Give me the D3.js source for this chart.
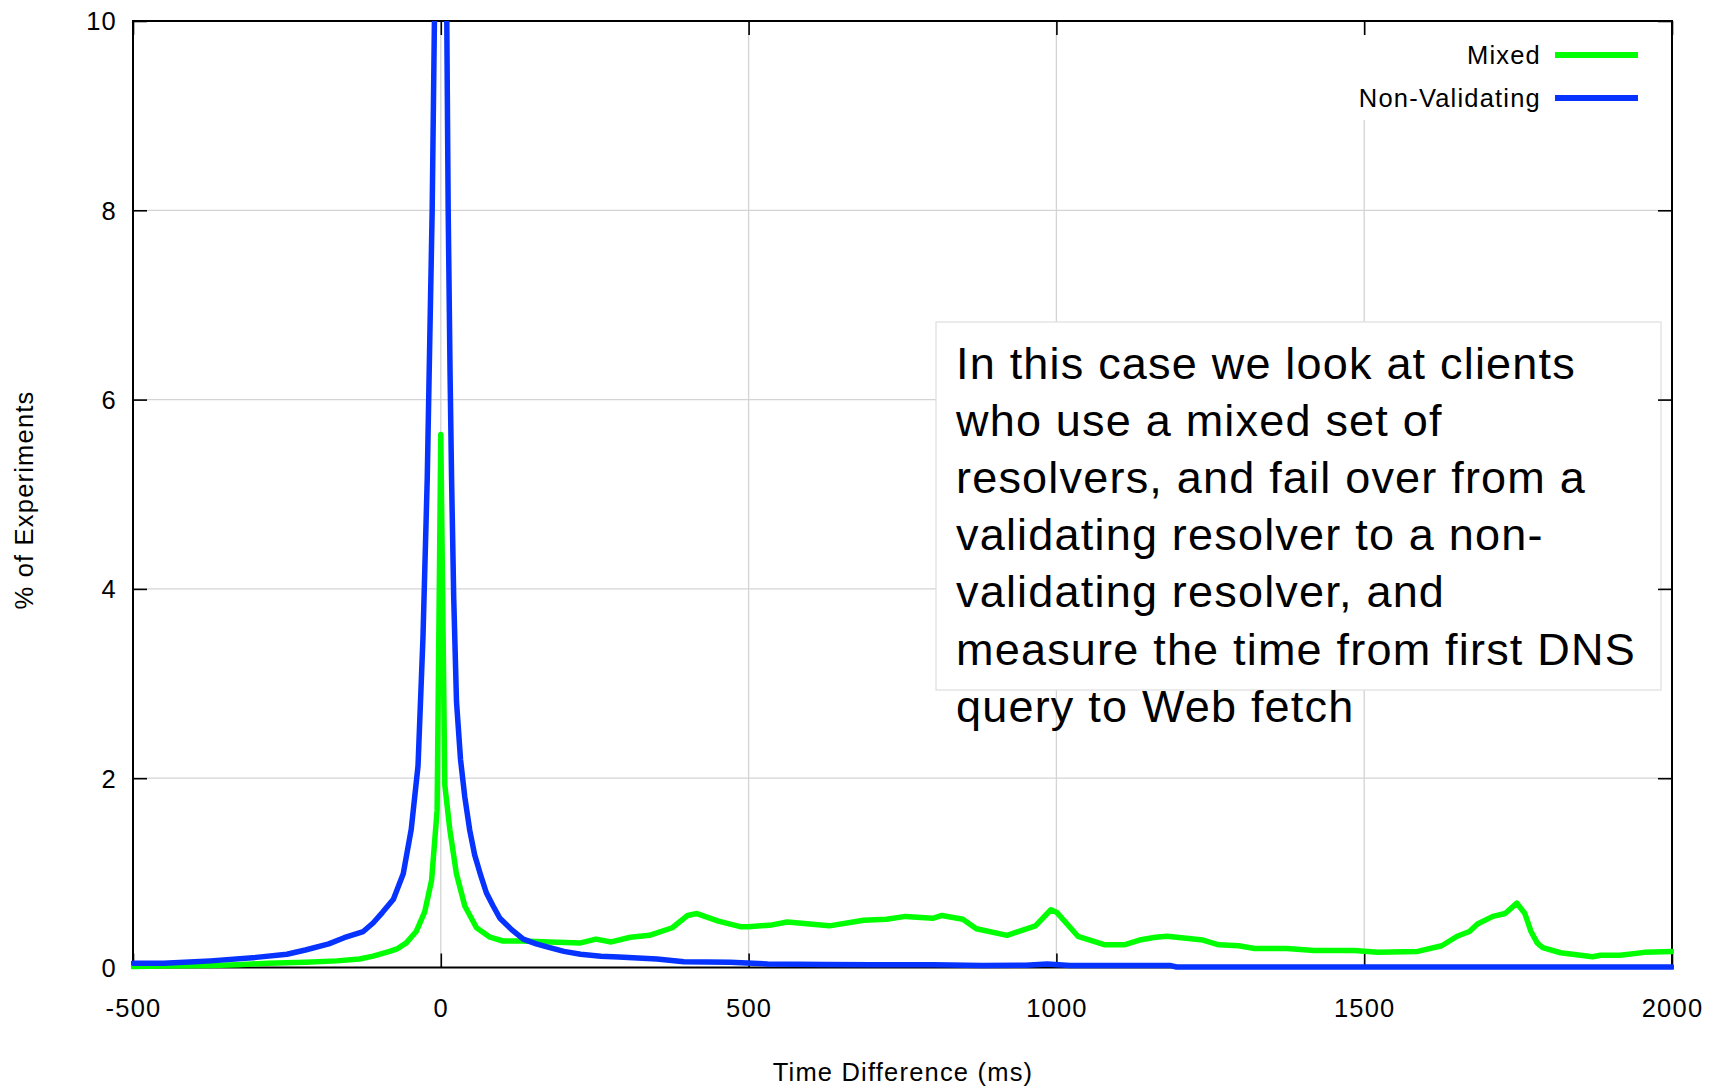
<!DOCTYPE html>
<html>
<head>
<meta charset="utf-8">
<script src="https://cdn.jsdelivr.net/npm/d3@7"></script>
<style>
  body { margin: 0; background: #fff; }
  text { font-family: "Liberation Sans", Arial, Helvetica, sans-serif; fill: #000; }
</style>
</head>
<body>
<svg id="chart" width="1723" height="1089"></svg>
<script>
// ---- Data ----
const xTicks = [-500, 0, 500, 1000, 1500, 2000];
const yTicks = [0, 2, 4, 6, 8, 10];
const seriesNames = ["Mixed", "Non-Validating"];
const xTitle = "Time Difference (ms)";
const yTitle = "% of Experiments";

// Mixed series: time difference (ms) and % of experiments
const mixedT = [-500, -450, -374, -330, -281, -220, -169, -132, -110, -83, -70, -56, -40, -26, -15, -6, 0,
  6.5, 14.6, 25.4, 39, 58, 80, 101, 130, 177, 227, 252, 277, 308, 339, 376, 401, 416, 451, 488, 500,
  538, 563, 631, 687, 724, 755, 799, 814, 848, 870, 920, 966, 991, 1001, 1035, 1079, 1110, 1135, 1161,
  1180, 1238, 1264, 1296, 1322, 1374, 1419, 1484, 1522, 1587, 1626, 1651, 1671, 1684, 1709, 1729, 1748,
  1761, 1771, 1781, 1790, 1819, 1871, 1884, 1916, 1955, 2000];
const mixedV = [0.01, 0.015, 0.02, 0.03, 0.044, 0.055, 0.07, 0.09, 0.12, 0.17, 0.2, 0.26, 0.38, 0.59, 0.92, 1.66, 5.63,
  1.93, 1.46, 0.99, 0.65, 0.42, 0.32, 0.28, 0.28, 0.27, 0.26, 0.30, 0.27, 0.32, 0.34, 0.42, 0.55, 0.57, 0.49, 0.43, 0.43,
  0.45, 0.48, 0.44, 0.50, 0.51, 0.54, 0.52, 0.55, 0.51, 0.41, 0.34, 0.44, 0.61, 0.58, 0.33, 0.24, 0.24, 0.29, 0.32,
  0.33, 0.29, 0.24, 0.23, 0.20, 0.20, 0.18, 0.18, 0.16, 0.17, 0.23, 0.33, 0.38, 0.46, 0.54, 0.57, 0.68,
  0.57, 0.38, 0.26, 0.21, 0.156, 0.114, 0.13, 0.13, 0.16, 0.17];

// Non-Validating series
const nonValT = [-500, -450, -400, -374, -300, -250, -220, -182, -157, -126, -110, -95, -77, -61, -48, -37, -29, -22,
  -18, -14, -10, 0, 9.5, 12, 15, 17.5, 21, 25.5, 32, 39, 47, 55, 65, 74, 85, 96, 115, 134, 155, 177, 200, 227,
  260, 289, 351, 395, 470, 531, 625, 700, 800, 880, 950, 985, 1022, 1100, 1186, 1195, 1400, 2000];
const nonValV = [0.045, 0.045, 0.06, 0.07, 0.107, 0.14, 0.185, 0.25, 0.315, 0.38, 0.47, 0.58, 0.72, 0.99, 1.46, 2.13, 3.48, 5.17,
  6.6, 8.0, 10.2, 16, 10.2, 8.0, 6.3, 5.17, 3.9, 2.81, 2.2, 1.80, 1.45, 1.19, 0.97, 0.79, 0.65, 0.52, 0.40, 0.30, 0.25, 0.21, 0.17, 0.14,
  0.12, 0.11, 0.09, 0.06, 0.055, 0.037, 0.033, 0.03, 0.03, 0.02, 0.025, 0.037, 0.02, 0.02, 0.02, 0.005, 0.005, 0.005];

const annotationLines = [
  "In this case we look at clients",
  "who use a mixed set of",
  "resolvers, and fail over from a",
  "validating resolver to a non-",
  "validating resolver, and",
  "measure the time from first DNS",
  "query to Web fetch"
];

const colors = ["#00ff00", "#0633ff"];

// ---- Layout ----
const svg = d3.select("#chart");
const L = 133, R = 1672, T = 21, B = 967.5;
const x = d3.scaleLinear().domain([-500, 2000]).range([L, R]);
const y = d3.scaleLinear().domain([0, 10]).range([B, T]);
const labelFont = { size: "25.5px", ls: "1.2px" };

svg.append("rect").attr("width", 1723).attr("height", 1089).attr("fill", "#fff");

// Gridlines
const grid = svg.append("g");
grid.selectAll("line.gx").data(xTicks.slice(1, -1)).join("line")
  .attr("x1", d => x(d)).attr("x2", d => x(d)).attr("y1", T).attr("y2", B)
  .attr("stroke", "#d4d4d4").attr("stroke-width", 1.3);
grid.selectAll("line.gy").data(yTicks.slice(1, -1)).join("line")
  .attr("x1", L).attr("x2", R).attr("y1", d => y(d)).attr("y2", d => y(d))
  .attr("stroke", "#d4d4d4").attr("stroke-width", 1.3);

// Legend background (hides gridlines)
svg.append("rect").attr("x", 1335).attr("y", 35).attr("width", 320).attr("height", 85).attr("fill", "#fff");

// Annotation box
svg.append("rect").attr("x", 936).attr("y", 322).attr("width", 725).attr("height", 368)
  .attr("fill", "#fff").attr("stroke", "#dedede").attr("stroke-width", 1.2);

// Axes with inward ticks on all four sides
const tickLen = 14;
const fmt = d => String(d);
const xAxisB = d3.axisBottom(x).tickValues(xTicks).tickSize(-tickLen).tickPadding(0).tickFormat(fmt);
const xAxisT = d3.axisTop(x).tickValues(xTicks).tickSize(-tickLen).tickFormat("");
const yAxisL = d3.axisLeft(y).tickValues(yTicks).tickSize(-tickLen).tickFormat(fmt);
const yAxisR = d3.axisRight(y).tickValues(yTicks).tickSize(-tickLen).tickFormat("");

function styleAxis(g) {
  g.select(".domain").remove();
  g.selectAll(".tick line").attr("stroke", "#000").attr("stroke-width", 1.6);
  g.selectAll(".tick text").attr("font-size", labelFont.size).attr("letter-spacing", labelFont.ls)
    .attr("font-family", "'Liberation Sans', Arial, sans-serif").attr("fill", "#000");
}
const gxb = svg.append("g").attr("transform", `translate(0,${B})`).call(xAxisB).call(styleAxis);
gxb.selectAll(".tick text").attr("y", 0).attr("dy", null).attr("transform", "translate(0,49)");
svg.append("g").attr("transform", `translate(0,${T})`).call(xAxisT).call(styleAxis);
const gyl = svg.append("g").attr("transform", `translate(${L},0)`).call(yAxisL).call(styleAxis);
gyl.selectAll(".tick text").attr("x", -16).attr("dy", "0.35em");
svg.append("g").attr("transform", `translate(${R},0)`).call(yAxisR).call(styleAxis);

// Frame
svg.append("rect").attr("x", L).attr("y", T).attr("width", R - L).attr("height", B - T)
  .attr("fill", "none").attr("stroke", "#000").attr("stroke-width", 2);

// Axis titles
svg.append("text").attr("x", 903).attr("y", 1081).attr("text-anchor", "middle")
  .attr("font-size", labelFont.size).attr("letter-spacing", labelFont.ls).text(xTitle);
svg.append("text").attr("transform", "translate(33,500) rotate(-90)").attr("text-anchor", "middle")
  .attr("font-size", labelFont.size).attr("letter-spacing", labelFont.ls).text(yTitle);

// Annotation text
const ann = svg.append("text").attr("font-size", "45px").attr("letter-spacing", "1.2px");
annotationLines.forEach((s, i) => {
  ann.append("tspan").attr("x", 956).attr("y", 379 + i * 57.1).text(s);
});

// Curves
svg.append("clipPath").attr("id", "plotclip").append("rect")
  .attr("x", L - 2).attr("y", T).attr("width", R - L + 4).attr("height", B - T + 8);
const line = d3.line().x(d => x(d[0])).y(d => y(d[1]));
const series = [d3.zip(mixedT, mixedV), d3.zip(nonValT, nonValV)];
const curves = svg.append("g").attr("clip-path", "url(#plotclip)");
curves.selectAll("path").data(series).join("path")
  .attr("d", line).attr("fill", "none")
  .attr("stroke", (d, i) => colors[i]).attr("stroke-width", 5.5)
  .attr("stroke-linejoin", "round").attr("stroke-linecap", "round");

// Legend
const leg = svg.append("g");
seriesNames.forEach((name, i) => {
  const cy = 55 + i * 43;
  leg.append("text").attr("x", 1541).attr("y", cy).attr("dy", "0.35em").attr("text-anchor", "end")
    .attr("font-size", labelFont.size).attr("letter-spacing", labelFont.ls).text(name);
  leg.append("line").attr("x1", 1555).attr("x2", 1638).attr("y1", cy).attr("y2", cy)
    .attr("stroke", colors[i]).attr("stroke-width", 6);
});
</script>
</body>
</html>
